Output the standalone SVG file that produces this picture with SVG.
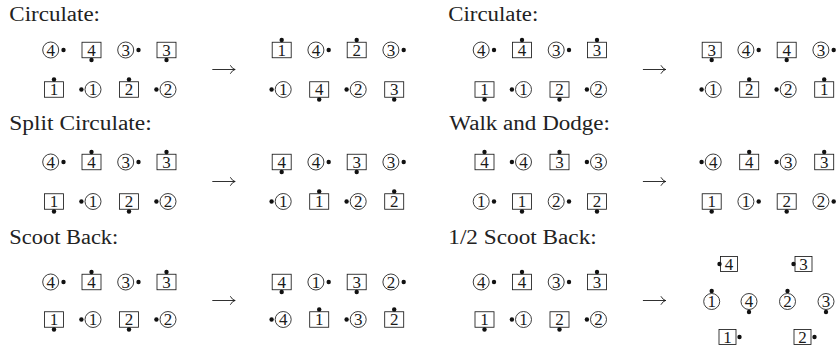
<svg xmlns="http://www.w3.org/2000/svg" xmlns:xlink="http://www.w3.org/1999/xlink" width="839" height="347" viewBox="0 0 839 347">
<style>
.sh{fill:none;stroke:#1a1a1a;stroke-width:0.85}
.dt{fill:#111}
.n{font-family:"Liberation Serif","Times New Roman",serif;font-size:17px;text-anchor:middle;fill:#1a1a1a}
.t{font-family:"Liberation Serif","Times New Roman",serif;font-size:20px;fill:#222}
.ar{fill:none;stroke:#1a1a1a;stroke-width:0.9;stroke-linecap:round}
</style>
<defs>
<rect id="bx" class="sh" x="-9.5" y="-7.75" width="19" height="15.5"/>
<rect id="bs" class="sh" x="-8.5" y="-7.5" width="17" height="15"/>
<circle id="ci" class="sh" r="8"/>
<circle id="d" class="dt" r="2.2"/>
</defs>
<rect width="839" height="347" fill="#fff"/>

<g id="titles">
<text class="t" x="9.3" y="20.5" textLength="90.7" lengthAdjust="spacingAndGlyphs">Circulate:</text>
<text class="t" x="448.3" y="20.5" textLength="90" lengthAdjust="spacingAndGlyphs">Circulate:</text>
<text class="t" x="9.3" y="130" textLength="142.4" lengthAdjust="spacingAndGlyphs">Split Circulate:</text>
<text class="t" x="449.3" y="130" textLength="160.7" lengthAdjust="spacingAndGlyphs">Walk and Dodge:</text>
<text class="t" x="9.3" y="244" textLength="109" lengthAdjust="spacingAndGlyphs">Scoot Back:</text>
<text class="t" x="448.3" y="244" textLength="148.4" lengthAdjust="spacingAndGlyphs">1/2 Scoot Back:</text>
</g>

<g id="connectors">
<path class="ar" d="M212.7 69.5H235M230.5 65.6Q232.5 69 235 69.5Q232.5 70 230.5 73.4"/>
<path class="ar" d="M643.3 69.5H665.6M661.1 65.6Q663.1 69 665.6 69.5Q663.1 70 661.1 73.4"/>
<path class="ar" d="M212.7 181.5H235M230.5 177.6Q232.5 181 235 181.5Q232.5 182 230.5 185.4"/>
<path class="ar" d="M643.3 181.5H665.6M661.1 177.6Q663.1 181 665.6 181.5Q663.1 182 661.1 185.4"/>
<path class="ar" d="M212.7 300.5H235M230.5 296.6Q232.5 300 235 300.5Q232.5 301 230.5 304.4"/>
<path class="ar" d="M643.3 300.5H665.6M661.1 296.6Q663.1 300 665.6 300.5Q663.1 301 661.1 304.4"/>
</g>

<!-- Panel 1: Circulate (left) -->
<g id="p1">
<g id="p1-s1" transform="translate(50.7,50)"><use href="#ci"/><text class="n" y="5.9">4</text><use href="#d" x="12.8"/></g>
<g id="p1-s2" transform="translate(91.5,50)"><use href="#bx"/><text class="n" y="5.9">4</text><use href="#d" y="10"/></g>
<g id="p1-s3" transform="translate(125.7,50)"><use href="#ci"/><text class="n" y="5.9">3</text><use href="#d" x="12.8"/></g>
<g id="p1-s4" transform="translate(166.5,50)"><use href="#bx"/><text class="n" y="5.9">3</text><use href="#d" y="10"/></g>
<g id="p1-s5" transform="translate(54,89.5)"><use href="#bx"/><text class="n" y="5.9">1</text><use href="#d" y="-10"/></g>
<g id="p1-s6" transform="translate(93,89.5)"><use href="#ci"/><text class="n" y="5.9">1</text><use href="#d" x="-11.6"/></g>
<g id="p1-s7" transform="translate(129,89.5)"><use href="#bx"/><text class="n" y="5.9">2</text><use href="#d" y="-10"/></g>
<g id="p1-s8" transform="translate(168,89.5)"><use href="#ci"/><text class="n" y="5.9">2</text><use href="#d" x="-11.6"/></g>
<g id="p1-r1" transform="translate(281.7,50)"><use href="#bx"/><text class="n" y="5.9">1</text><use href="#d" y="-10"/></g>
<g id="p1-r2" transform="translate(315.9,50)"><use href="#ci"/><text class="n" y="5.9">4</text><use href="#d" x="12.8"/></g>
<g id="p1-r3" transform="translate(356.7,50)"><use href="#bx"/><text class="n" y="5.9">2</text><use href="#d" y="-10"/></g>
<g id="p1-r4" transform="translate(390.9,50)"><use href="#ci"/><text class="n" y="5.9">3</text><use href="#d" x="12.8"/></g>
<g id="p1-r5" transform="translate(283.2,89.5)"><use href="#ci"/><text class="n" y="5.9">1</text><use href="#d" x="-11.6"/></g>
<g id="p1-r6" transform="translate(319.2,89.5)"><use href="#bx"/><text class="n" y="5.9">4</text><use href="#d" y="10"/></g>
<g id="p1-r7" transform="translate(358.2,89.5)"><use href="#ci"/><text class="n" y="5.9">2</text><use href="#d" x="-11.6"/></g>
<g id="p1-r8" transform="translate(394.2,89.5)"><use href="#bx"/><text class="n" y="5.9">3</text><use href="#d" y="10"/></g>
</g>

<!-- Panel 2: Circulate (right) -->
<g id="p2">
<g id="p2-s1" transform="translate(481.2,50)"><use href="#ci"/><text class="n" y="5.9">4</text><use href="#d" x="12.8"/></g>
<g id="p2-s2" transform="translate(522,50)"><use href="#bx"/><text class="n" y="5.9">4</text><use href="#d" y="-10"/></g>
<g id="p2-s3" transform="translate(556.2,50)"><use href="#ci"/><text class="n" y="5.9">3</text><use href="#d" x="12.8"/></g>
<g id="p2-s4" transform="translate(597,50)"><use href="#bx"/><text class="n" y="5.9">3</text><use href="#d" y="-10"/></g>
<g id="p2-s5" transform="translate(484.5,89.5)"><use href="#bx"/><text class="n" y="5.9">1</text><use href="#d" y="10"/></g>
<g id="p2-s6" transform="translate(523.5,89.5)"><use href="#ci"/><text class="n" y="5.9">1</text><use href="#d" x="-11.6"/></g>
<g id="p2-s7" transform="translate(559.5,89.5)"><use href="#bx"/><text class="n" y="5.9">2</text><use href="#d" y="10"/></g>
<g id="p2-s8" transform="translate(598.5,89.5)"><use href="#ci"/><text class="n" y="5.9">2</text><use href="#d" x="-11.6"/></g>
<g id="p2-r1" transform="translate(711.7,50)"><use href="#bx"/><text class="n" y="5.9">3</text><use href="#d" y="10"/></g>
<g id="p2-r2" transform="translate(745.9,50)"><use href="#ci"/><text class="n" y="5.9">4</text><use href="#d" x="12.8"/></g>
<g id="p2-r3" transform="translate(786.7,50)"><use href="#bx"/><text class="n" y="5.9">4</text><use href="#d" y="10"/></g>
<g id="p2-r4" transform="translate(820.9,50)"><use href="#ci"/><text class="n" y="5.9">3</text><use href="#d" x="12.8"/></g>
<g id="p2-r5" transform="translate(713.2,89.5)"><use href="#ci"/><text class="n" y="5.9">1</text><use href="#d" x="-11.6"/></g>
<g id="p2-r6" transform="translate(749.2,89.5)"><use href="#bx"/><text class="n" y="5.9">2</text><use href="#d" y="-10"/></g>
<g id="p2-r7" transform="translate(788.2,89.5)"><use href="#ci"/><text class="n" y="5.9">2</text><use href="#d" x="-11.6"/></g>
<g id="p2-r8" transform="translate(824.2,89.5)"><use href="#bx"/><text class="n" y="5.9">1</text><use href="#d" y="-10"/></g>
</g>

<!-- Panel 3: Split Circulate -->
<g id="p3">
<g id="p3-s1" transform="translate(50.7,162)"><use href="#ci"/><text class="n" y="5.9">4</text><use href="#d" x="12.8"/></g>
<g id="p3-s2" transform="translate(91.5,162)"><use href="#bx"/><text class="n" y="5.9">4</text><use href="#d" y="-10"/></g>
<g id="p3-s3" transform="translate(125.7,162)"><use href="#ci"/><text class="n" y="5.9">3</text><use href="#d" x="12.8"/></g>
<g id="p3-s4" transform="translate(166.5,162)"><use href="#bx"/><text class="n" y="5.9">3</text><use href="#d" y="-10"/></g>
<g id="p3-s5" transform="translate(54,201.5)"><use href="#bx"/><text class="n" y="5.9">1</text><use href="#d" y="10"/></g>
<g id="p3-s6" transform="translate(93,201.5)"><use href="#ci"/><text class="n" y="5.9">1</text><use href="#d" x="-11.6"/></g>
<g id="p3-s7" transform="translate(129,201.5)"><use href="#bx"/><text class="n" y="5.9">2</text><use href="#d" y="10"/></g>
<g id="p3-s8" transform="translate(168,201.5)"><use href="#ci"/><text class="n" y="5.9">2</text><use href="#d" x="-11.6"/></g>
<g id="p3-r1" transform="translate(281.7,162)"><use href="#bx"/><text class="n" y="5.9">4</text><use href="#d" y="10"/></g>
<g id="p3-r2" transform="translate(315.9,162)"><use href="#ci"/><text class="n" y="5.9">4</text><use href="#d" x="12.8"/></g>
<g id="p3-r3" transform="translate(356.7,162)"><use href="#bx"/><text class="n" y="5.9">3</text><use href="#d" y="10"/></g>
<g id="p3-r4" transform="translate(390.9,162)"><use href="#ci"/><text class="n" y="5.9">3</text><use href="#d" x="12.8"/></g>
<g id="p3-r5" transform="translate(283.2,201.5)"><use href="#ci"/><text class="n" y="5.9">1</text><use href="#d" x="-11.6"/></g>
<g id="p3-r6" transform="translate(319.2,201.5)"><use href="#bx"/><text class="n" y="5.9">1</text><use href="#d" y="-10"/></g>
<g id="p3-r7" transform="translate(358.2,201.5)"><use href="#ci"/><text class="n" y="5.9">2</text><use href="#d" x="-11.6"/></g>
<g id="p3-r8" transform="translate(394.2,201.5)"><use href="#bx"/><text class="n" y="5.9">2</text><use href="#d" y="-10"/></g>
</g>

<!-- Panel 4: Walk and Dodge -->
<g id="p4">
<g id="p4-s1" transform="translate(484.5,162)"><use href="#bx"/><text class="n" y="5.9">4</text><use href="#d" y="-10"/></g>
<g id="p4-s2" transform="translate(523.5,162)"><use href="#ci"/><text class="n" y="5.9">4</text><use href="#d" x="-11.6"/></g>
<g id="p4-s3" transform="translate(559.5,162)"><use href="#bx"/><text class="n" y="5.9">3</text><use href="#d" y="-10"/></g>
<g id="p4-s4" transform="translate(598.5,162)"><use href="#ci"/><text class="n" y="5.9">3</text><use href="#d" x="-11.6"/></g>
<g id="p4-s5" transform="translate(481.2,201.5)"><use href="#ci"/><text class="n" y="5.9">1</text><use href="#d" x="12.8"/></g>
<g id="p4-s6" transform="translate(522,201.5)"><use href="#bx"/><text class="n" y="5.9">1</text><use href="#d" y="10"/></g>
<g id="p4-s7" transform="translate(556.2,201.5)"><use href="#ci"/><text class="n" y="5.9">2</text><use href="#d" x="12.8"/></g>
<g id="p4-s8" transform="translate(597,201.5)"><use href="#bx"/><text class="n" y="5.9">2</text><use href="#d" y="10"/></g>
<g id="p4-r1" transform="translate(713.2,162)"><use href="#ci"/><text class="n" y="5.9">4</text><use href="#d" x="-11.6"/></g>
<g id="p4-r2" transform="translate(749.2,162)"><use href="#bx"/><text class="n" y="5.9">4</text><use href="#d" y="-10"/></g>
<g id="p4-r3" transform="translate(788.2,162)"><use href="#ci"/><text class="n" y="5.9">3</text><use href="#d" x="-11.6"/></g>
<g id="p4-r4" transform="translate(824.2,162)"><use href="#bx"/><text class="n" y="5.9">3</text><use href="#d" y="-10"/></g>
<g id="p4-r5" transform="translate(711.7,201.5)"><use href="#bx"/><text class="n" y="5.9">1</text><use href="#d" y="10"/></g>
<g id="p4-r6" transform="translate(745.9,201.5)"><use href="#ci"/><text class="n" y="5.9">1</text><use href="#d" x="12.8"/></g>
<g id="p4-r7" transform="translate(786.7,201.5)"><use href="#bx"/><text class="n" y="5.9">2</text><use href="#d" y="10"/></g>
<g id="p4-r8" transform="translate(820.9,201.5)"><use href="#ci"/><text class="n" y="5.9">2</text><use href="#d" x="12.8"/></g>
</g>

<!-- Panel 5: Scoot Back -->
<g id="p5">
<g id="p5-s1" transform="translate(50.7,282)"><use href="#ci"/><text class="n" y="5.9">4</text><use href="#d" x="12.8"/></g>
<g id="p5-s2" transform="translate(91.5,282)"><use href="#bx"/><text class="n" y="5.9">4</text><use href="#d" y="-10"/></g>
<g id="p5-s3" transform="translate(125.7,282)"><use href="#ci"/><text class="n" y="5.9">3</text><use href="#d" x="12.8"/></g>
<g id="p5-s4" transform="translate(166.5,282)"><use href="#bx"/><text class="n" y="5.9">3</text><use href="#d" y="-10"/></g>
<g id="p5-s5" transform="translate(54,319.5)"><use href="#bx"/><text class="n" y="5.9">1</text><use href="#d" y="10"/></g>
<g id="p5-s6" transform="translate(93,319.5)"><use href="#ci"/><text class="n" y="5.9">1</text><use href="#d" x="-11.6"/></g>
<g id="p5-s7" transform="translate(129,319.5)"><use href="#bx"/><text class="n" y="5.9">2</text><use href="#d" y="10"/></g>
<g id="p5-s8" transform="translate(168,319.5)"><use href="#ci"/><text class="n" y="5.9">2</text><use href="#d" x="-11.6"/></g>
<g id="p5-r1" transform="translate(281.7,282)"><use href="#bx"/><text class="n" y="5.9">4</text><use href="#d" y="10"/></g>
<g id="p5-r2" transform="translate(315.9,282)"><use href="#ci"/><text class="n" y="5.9">1</text><use href="#d" x="12.8"/></g>
<g id="p5-r3" transform="translate(356.7,282)"><use href="#bx"/><text class="n" y="5.9">3</text><use href="#d" y="10"/></g>
<g id="p5-r4" transform="translate(390.9,282)"><use href="#ci"/><text class="n" y="5.9">2</text><use href="#d" x="12.8"/></g>
<g id="p5-r5" transform="translate(283.2,319.5)"><use href="#ci"/><text class="n" y="5.9">4</text><use href="#d" x="-11.6"/></g>
<g id="p5-r6" transform="translate(319.2,319.5)"><use href="#bx"/><text class="n" y="5.9">1</text><use href="#d" y="-10"/></g>
<g id="p5-r7" transform="translate(358.2,319.5)"><use href="#ci"/><text class="n" y="5.9">3</text><use href="#d" x="-11.6"/></g>
<g id="p5-r8" transform="translate(394.2,319.5)"><use href="#bx"/><text class="n" y="5.9">2</text><use href="#d" y="-10"/></g>
</g>

<!-- Panel 6: 1/2 Scoot Back -->
<g id="p6">
<g id="p6-s1" transform="translate(481.2,282)"><use href="#ci"/><text class="n" y="5.9">4</text><use href="#d" x="12.8"/></g>
<g id="p6-s2" transform="translate(522,282)"><use href="#bx"/><text class="n" y="5.9">4</text><use href="#d" y="-10"/></g>
<g id="p6-s3" transform="translate(556.2,282)"><use href="#ci"/><text class="n" y="5.9">3</text><use href="#d" x="12.8"/></g>
<g id="p6-s4" transform="translate(597,282)"><use href="#bx"/><text class="n" y="5.9">3</text><use href="#d" y="-10"/></g>
<g id="p6-s5" transform="translate(484.5,319.5)"><use href="#bx"/><text class="n" y="5.9">1</text><use href="#d" y="10"/></g>
<g id="p6-s6" transform="translate(523.5,319.5)"><use href="#ci"/><text class="n" y="5.9">1</text><use href="#d" x="-11.6"/></g>
<g id="p6-s7" transform="translate(559.5,319.5)"><use href="#bx"/><text class="n" y="5.9">2</text><use href="#d" y="10"/></g>
<g id="p6-s8" transform="translate(598.5,319.5)"><use href="#ci"/><text class="n" y="5.9">2</text><use href="#d" x="-11.6"/></g>
<g id="p6-r1" transform="translate(729,264)"><use href="#bs"/><text class="n" y="5.9">4</text><use href="#d" x="-9.5"/></g>
<g id="p6-r2" transform="translate(803.5,264)"><use href="#bs"/><text class="n" y="5.9">3</text><use href="#d" x="-10"/></g>
<g id="p6-r3" transform="translate(711.7,301.5)"><use href="#ci"/><text class="n" y="5.9">1</text><use href="#d" y="-10.5"/></g>
<g id="p6-r4" transform="translate(749,301.5)"><use href="#ci"/><text class="n" y="5.9">4</text><use href="#d" y="10.5"/></g>
<g id="p6-r5" transform="translate(787.5,301.5)"><use href="#ci"/><text class="n" y="5.9">2</text><use href="#d" y="-10.5"/></g>
<g id="p6-r6" transform="translate(826,301.5)"><use href="#ci"/><text class="n" y="5.9">3</text><use href="#d" y="10.5"/></g>
<g id="p6-r7" transform="translate(727.5,337)"><use href="#bs"/><text class="n" y="5.9">1</text><use href="#d" x="12"/></g>
<g id="p6-r8" transform="translate(802.5,337)"><use href="#bs"/><text class="n" y="5.9">2</text><use href="#d" x="12"/></g>
</g>
</svg>
